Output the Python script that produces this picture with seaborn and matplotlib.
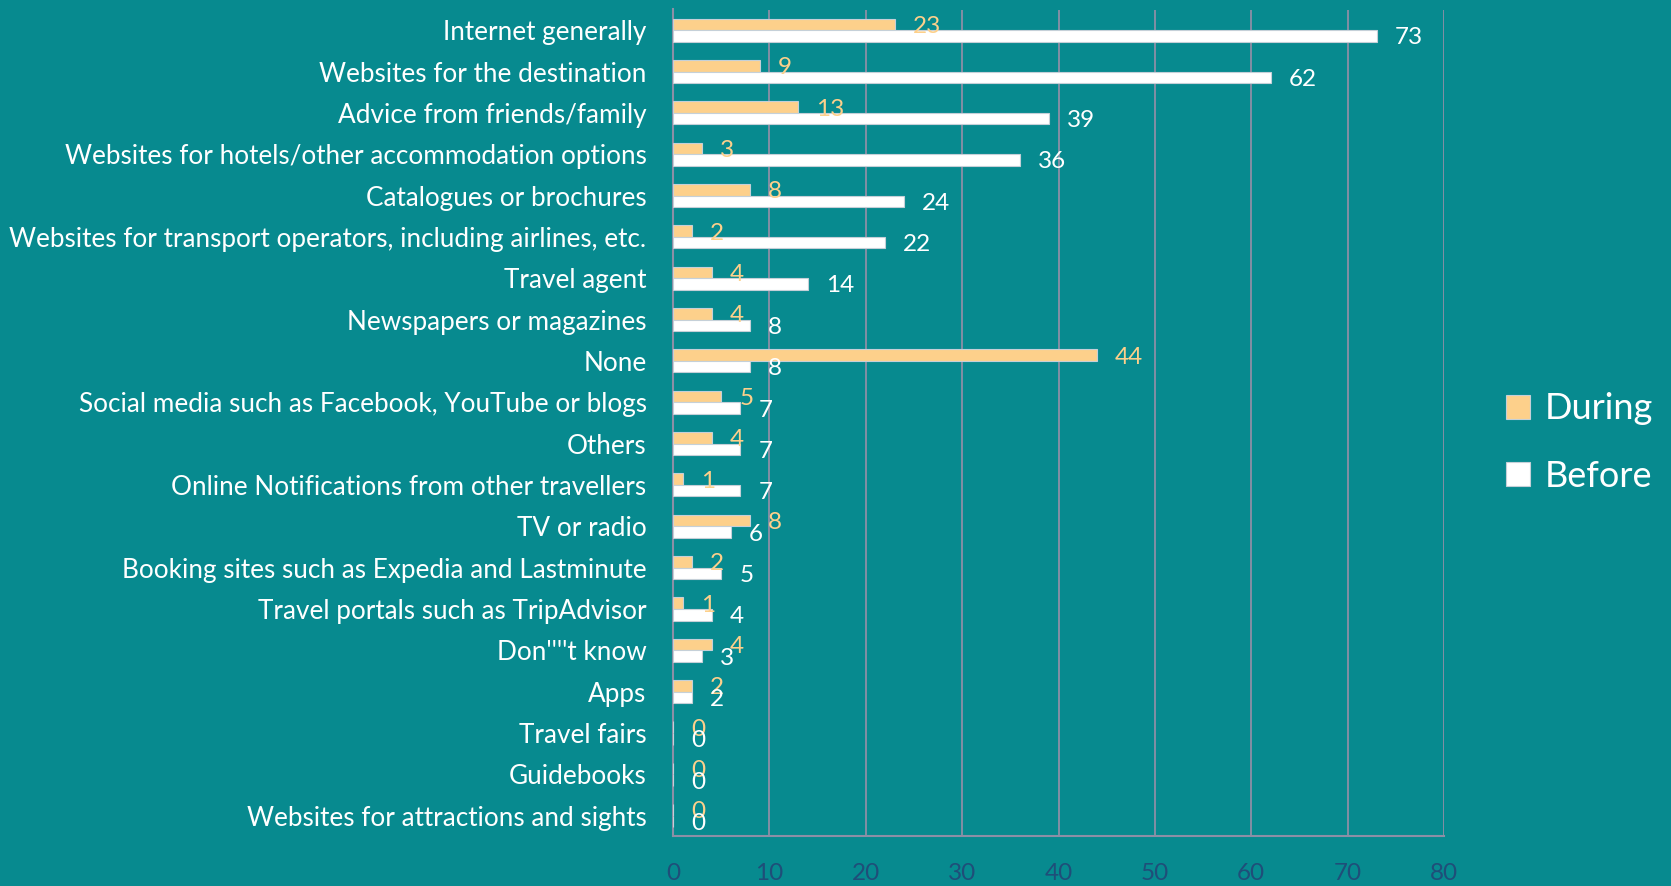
import matplotlib
matplotlib.use("Agg")
import matplotlib.pyplot as plt
import seaborn as sns
import pandas as pd
import numpy as np
from matplotlib.ticker import FixedLocator

# Information sources used before and during the trip (% of respondents)
categories = [
    "Internet generally",
    "Websites for the destination",
    "Advice from friends/family",
    "Websites for hotels/other accommodation options",
    "Catalogues or brochures",
    "Websites for transport operators, including airlines, etc.",
    "Travel agent",
    "Newspapers or magazines",
    "None",
    "Social media such as Facebook, YouTube or blogs",
    "Others",
    "Online Notifications from other travellers",
    "TV or radio",
    "Booking sites such as Expedia and Lastminute",
    "Travel portals such as TripAdvisor",
    "Don''''t know",
    "Apps",
    "Travel fairs",
    "Guidebooks",
    "Websites for attractions and sights",
]
during = [23, 9, 13, 3, 8, 2, 4, 4, 44, 5, 4, 1, 8, 2, 1, 4, 2, 0, 0, 0]
before = [73, 62, 39, 36, 24, 22, 14, 8, 8, 7, 7, 7, 6, 5, 4, 3, 2, 0, 0, 0]
series = ["During", "Before"]
x_ticks = [0, 10, 20, 30, 40, 50, 60, 70, 80]

TEAL = "#078A8F"
ORANGE = "#FDD08B"
LINE = "#8C8FA6"
TICK_TEXT = "#1F4E79"
EDGE = "#C5D0D8"

sns.set_style("white")
plt.rcParams["font.family"] = ["Lato", "DejaVu Sans"]

df = pd.DataFrame({
    "Source": categories * 2,
    "Share": during + before,
    "Timing": [series[0]] * len(categories) + [series[1]] * len(categories),
})

W, H = 1671, 886
fig = plt.figure(figsize=(W / 100, H / 100), dpi=100, facecolor=TEAL)
ax = fig.add_axes([673 / W, 1 - 836.3 / H, (1444 - 673) / W, (836.3 - 9.5) / H])
ax.set_facecolor(TEAL)

sns.barplot(
    data=df, y="Source", x="Share", hue="Timing",
    order=categories, hue_order=series,
    palette={series[0]: ORANGE, series[1]: "white"}, saturation=1,
    orient="h", width=0.56, edgecolor=EDGE, linewidth=0.8,
    ax=ax, zorder=3,
)

# value labels at the end of each bar
for container, vals, col in zip(ax.containers, [during, before], [ORANGE, "white"]):
    texts = ax.bar_label(container, labels=[str(v) for v in vals], padding=13,
                         color=col, fontsize=17.5)
    for t in texts:
        t.set_va("center_baseline")

ax.set_xlim(0, 80)
ax.set_ylim(len(categories) - 0.5, -0.5)
ax.xaxis.set_major_locator(FixedLocator(x_ticks))
ax.set_xlabel("")
ax.set_ylabel("")

ax.grid(axis="x", color=LINE, linewidth=1.3, zorder=0)
ax.grid(axis="y", visible=False)
ax.set_axisbelow(True)

for side in ["top", "right"]:
    ax.spines[side].set_visible(False)
for side in ["left", "bottom"]:
    ax.spines[side].set_color(LINE)
    ax.spines[side].set_linewidth(1.5)

# category separators as minor ticks on the y axis
ax.yaxis.set_minor_locator(FixedLocator(np.arange(-0.5, len(categories), 1.0)))
ax.tick_params(axis="y", which="major", length=0, pad=19,
               labelcolor="white", labelsize=18.8)
ax.tick_params(axis="y", which="minor", length=8, width=1.5, color=LINE)
ax.tick_params(axis="x", which="major", length=8, width=1.5, color=LINE,
               labelcolor=TICK_TEXT, labelsize=17.5, pad=11)

handles, labels = ax.get_legend_handles_labels()
if ax.get_legend() is not None:
    ax.get_legend().remove()
fig.legend(handles, labels, loc="center left",
           bbox_to_anchor=(1506 / W, 1 - 442.5 / H),
           frameon=False, fontsize=26, handlelength=0.66, handleheight=0.66,
           handletextpad=0.42, labelspacing=0.95, borderpad=0, borderaxespad=0,
           labelcolor="white")

fig.savefig("out.png", dpi=100, facecolor=TEAL)
